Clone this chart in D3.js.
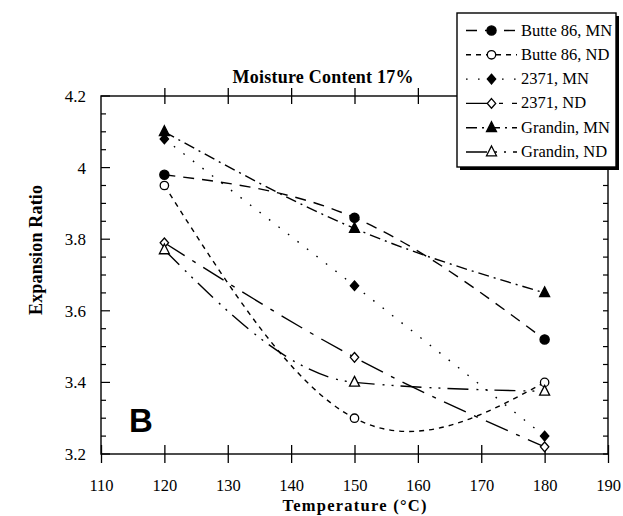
<!DOCTYPE html>
<html><head><meta charset="utf-8">
<script src="https://cdn.jsdelivr.net/npm/d3@7/dist/d3.min.js"></script>
<style>body{margin:0;background:#fff}svg{display:block}</style>
</head><body>
<svg id="c" width="623" height="516"></svg>
<script>
// ---- data ----
const temperatures = [120, 150, 180];
const seriesNames = ["Butte 86, MN", "Butte 86, ND", "2371, MN", "2371, ND", "Grandin, MN", "Grandin, ND"];
const butte86MN = [3.98, 3.86, 3.52];
const butte86ND = [3.95, 3.30, 3.40];
const cv2371MN  = [4.08, 3.67, 3.25];
const cv2371ND  = [3.79, 3.47, 3.22];
const grandinMN = [4.10, 3.83, 3.65];
const grandinND = [3.77, 3.40, 3.375];
const xTicks = [110, 120, 130, 140, 150, 160, 170, 180, 190];
const yTicks = [3.2, 3.4, 3.6, 3.8, 4, 4.2];
const yTickLabels = ["3.2", "3.4", "3.6", "3.8", "4", "4.2"];
const titleText = "Moisture Content 17%";
const xTitle = "Temperature (\u00B0C)";
const yTitle = "Expansion Ratio";
const panelLetter = "B";

// ---- styles (kept apart from data) ----
const seriesValues = [butte86MN, butte86ND, cv2371MN, cv2371ND, grandinMN, grandinND];
const markerTypes = ["circleFilled", "circleOpen", "diamondFilled", "diamondOpen", "triangleFilled", "triangleOpen"];
const dashes = ["11,8", "5,5", "1.6,10.4", "24,9,4,9", "11,5,2,5", "21,8,2,7,2,7"];
const curves = [d3.curveNatural, d3.curveNatural, d3.curveNatural, d3.curveNatural, d3.curveNatural, d3.curveMonotoneX];

const serif = "'Liberation Serif', 'Times New Roman', serif";
const svg = d3.select("#c");
const x = d3.scaleLinear().domain([110, 190]).range([101, 608]);
const y = d3.scaleLinear().domain([3.2, 4.2]).range([454, 96]);
const X0 = x.range()[0], X1 = x.range()[1], Y0 = y.range()[0], Y1 = y.range()[1];

function markerPath(type) {
  if (type.startsWith("circle")) return d3.symbol(d3.symbolCircle, Math.PI * (type === "circleFilled" ? 4.6 : 4.2) ** 2)();
  if (type.startsWith("diamond")) { const w = 4.2, h = 4.8; return `M0,${-h}L${w},0L0,${h}L${-w},0Z`; }
  const w = 5, t = -6, b = 3.8; return `M0,${t}L${w},${b}L${-w},${b}Z`;
}
function drawMarker(g, type, cx, cy) {
  const filled = type.endsWith("Filled");
  g.append("path").attr("d", markerPath(type))
    .attr("transform", `translate(${cx},${cy})`)
    .attr("fill", filled ? "#000" : "#fff")
    .attr("stroke", "#000").attr("stroke-width", 1.3);
}

// ---- frame ----
svg.append("rect").attr("x", X0).attr("y", Y1).attr("width", X1 - X0).attr("height", Y0 - Y1)
  .attr("fill", "none").attr("stroke", "#000").attr("stroke-width", 1.4);

// bottom axis (crossing ticks)
const xAxisG = svg.append("g").attr("transform", `translate(0,${Y0})`)
  .call(d3.axisBottom(x).tickValues(xTicks).tickSize(9).tickPadding(16).tickFormat(d3.format("d")));
xAxisG.select(".domain").remove();
xAxisG.selectAll(".tick line").attr("y1", -9).attr("stroke-width", 1.3);
xAxisG.selectAll(".tick text").attr("font-family", serif).attr("font-size", 16.5).attr("fill", "#000");

// top axis ticks
const topG = svg.append("g").attr("transform", `translate(0,${Y1})`)
  .call(d3.axisTop(x).tickValues(xTicks.slice(1, -1)).tickSize(8).tickFormat(""));
topG.select(".domain").remove();
topG.selectAll(".tick line").attr("y1", 8).attr("stroke-width", 1.3);

// left axis
const yMinor = d3.range(0, 21).map(i => 3.2 + i * 0.05);
const leftG = svg.append("g").attr("transform", `translate(${X0},0)`)
  .call(d3.axisLeft(y).tickValues(yTicks).tickSize(0).tickPadding(15).tickFormat((d, i) => yTickLabels[i]));
leftG.select(".domain").remove();
leftG.selectAll(".tick text").attr("font-family", serif).attr("font-size", 17).attr("fill", "#000");
svg.append("g").selectAll("line").data(yMinor).join("line")
  .attr("x1", X0).attr("x2", d => X0 + (Math.abs(Math.round(d * 5) - d * 5) < 1e-6 ? 9 : 5))
  .attr("y1", d => y(d)).attr("y2", d => y(d)).attr("stroke", "#000").attr("stroke-width", 1.2);
// right axis minor ticks
svg.append("g").selectAll("line").data(yMinor).join("line")
  .attr("x1", X1).attr("x2", X1 - 5)
  .attr("y1", d => y(d)).attr("y2", d => y(d)).attr("stroke", "#000").attr("stroke-width", 1.2);

// ---- series ----
const plot = svg.append("g");
seriesValues.forEach((vals, si) => {
  const pts = vals.map((v, i) => [temperatures[i], v]);
  const line = d3.line().x(d => x(d[0])).y(d => y(d[1])).curve(curves[si]);
  plot.append("path").attr("d", line(pts)).attr("fill", "none").attr("stroke", "#000")
    .attr("stroke-width", 1.4).attr("stroke-dasharray", dashes[si]);
});
seriesValues.forEach((vals, si) => {
  vals.forEach((v, i) => drawMarker(plot, markerTypes[si], x(temperatures[i]), y(v)));
});

// ---- texts ----
svg.append("text").attr("x", 323).attr("y", 83).attr("text-anchor", "middle")
  .attr("font-family", serif).attr("font-weight", "bold").attr("font-size", 18)
  .attr("textLength", 181).attr("lengthAdjust", "spacing").text(titleText);
svg.append("text").attr("x", (X0 + X1) / 2).attr("y", 511).attr("text-anchor", "middle")
  .attr("font-family", serif).attr("font-weight", "bold").attr("font-size", 16.5)
  .attr("textLength", 144).attr("lengthAdjust", "spacing").text(xTitle);
svg.append("text").attr("transform", "translate(42,250) rotate(-90)").attr("text-anchor", "middle")
  .attr("font-family", serif).attr("font-weight", "bold").attr("font-size", 18)
  .attr("textLength", 130).attr("lengthAdjust", "spacing").text(yTitle);
svg.append("text").attr("x", 129).attr("y", 432)
  .attr("font-family", "'Liberation Sans', Arial, sans-serif").attr("font-weight", "bold").attr("font-size", 33).text(panelLetter);

// ---- legend ----
const lg = svg.append("g");
lg.append("rect").attr("x", 460).attr("y", 16).attr("width", 159).attr("height", 154).attr("fill", "#000");
lg.append("rect").attr("x", 457).attr("y", 13).attr("width", 159).attr("height", 154)
  .attr("fill", "#fff").attr("stroke", "#000").attr("stroke-width", 1.4);
seriesNames.forEach((name, si) => {
  const ry = 30.5 + si * 24.3;
  lg.append("line").attr("x1", 466).attr("x2", 517).attr("y1", ry).attr("y2", ry)
    .attr("stroke", "#000").attr("stroke-width", 1.4).attr("stroke-dasharray", dashes[si]);
  drawMarker(lg, markerTypes[si], 491.5, ry);
  lg.append("text").attr("x", 521).attr("y", ry + 5).attr("font-family", serif).attr("font-size", 16.5).text(name);
});
</script>
</body></html>
